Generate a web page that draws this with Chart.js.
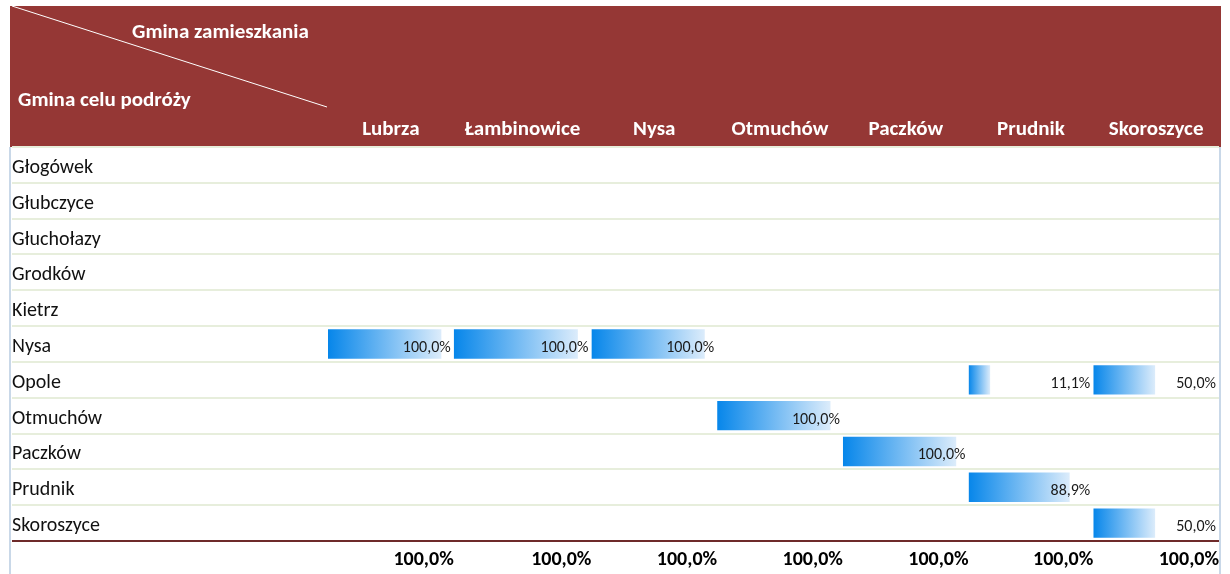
<!DOCTYPE html>
<html lang="pl">
  <head>
    <meta charset="UTF-8" />
    <title>Gmina celu podróży / Gmina zamieszkania</title>
    <script src="https://cdn.jsdelivr.net/npm/chart.js"></script>
    <style>
      body {
        margin: 0;
        padding: 0;
        background: #ffffff;
      }
      #wrap {
        width: 1230px;
        height: 574px;
        position: relative;
      }
    </style>
  </head>
  <body>
    <div id="wrap"><canvas id="tableChart"></canvas></div>

    <script>
      // destination municipalities (rows)
      const destinations = [
        "Głogówek",
        "Głubczyce",
        "Głuchołazy",
        "Grodków",
        "Kietrz",
        "Nysa",
        "Opole",
        "Otmuchów",
        "Paczków",
        "Prudnik",
        "Skoroszyce",
      ];
      // home municipalities (columns)
      const homes = [
        "Lubrza",
        "Łambinowice",
        "Nysa",
        "Otmuchów",
        "Paczków",
        "Prudnik",
        "Skoroszyce",
      ];
      // shares per column, one entry per destination row
      const lubrza = [null, null, null, null, null, 1.0, null, null, null, null, null];
      const lambinowice = [null, null, null, null, null, 1.0, null, null, null, null, null];
      const nysa = [null, null, null, null, null, 1.0, null, null, null, null, null];
      const otmuchow = [null, null, null, null, null, null, null, 1.0, null, null, null];
      const paczkow = [null, null, null, null, null, null, null, null, 1.0, null, null];
      const prudnik = [null, null, null, null, null, null, 0.111, null, null, 0.889, null];
      const skoroszyce = [null, null, null, null, null, null, 0.5, null, null, null, 0.5];
      const totals = [1.0, 1.0, 1.0, 1.0, 1.0, 1.0, 1.0];

      const columnValues = [lubrza, lambinowice, nysa, otmuchow, paczkow, prudnik, skoroszyce];
      const columnWidths = [126, 138, 126, 126, 126, 125, 126];

      const FONT = 'Carlito, "Liberation Sans Narrow", "Open Sans", sans-serif';
      const HEADER_RED = "#953735";
      const BAR_MIN = -0.1; // excel style data bars keep a minimum length
      const BAR_MAX = 1.12;

      function pct(v) {
        return (v * 100).toFixed(1).replace(".", ",") + "%";
      }

      function barGradient(c) {
        const chart = c.chart;
        const sc = chart.scales[c.dataset.xAxisID];
        if (!sc || c.raw == null) return "#1a8be8";
        const x0 = sc.getPixelForValue(BAR_MIN);
        const x1 = sc.getPixelForValue(c.raw);
        if (!isFinite(x0) || !isFinite(x1) || x1 <= x0) return "#1a8be8";
        const g = chart.ctx.createLinearGradient(x0, 0, x1, 0);
        g.addColorStop(0, "#0686ea");
        g.addColorStop(1, "#dcecfb");
        return g;
      }

      const scales = {
        y: {
          type: "category",
          position: "left",
          afterFit: (s) => {
            s.width = 316;
          },
          ticks: {
            crossAlign: "far",
            labelOffset: 3,
            color: "#111111",
            font: { family: FONT, size: 20 },
          },
          grid: {
            offset: true,
            drawTicks: true,
            tickLength: 316,
            lineWidth: 2,
            color: (c) => (c.type === "scale" ? "#6e2a2a" : "#e7eedc"),
          },
          border: { display: false },
        },
      };

      // top axes are laid out in reverse order, so add them last column first
      for (let i = homes.length - 1; i >= 0; i--) {
        scales["x" + i] = {
          type: "linear",
          position: "top",
          stack: "columns",
          stackWeight: columnWidths[i],
          min: BAR_MIN,
          max: BAR_MAX,
          afterFit: (s) => {
            s.height = 30;
          },
          ticks: { display: false },
          grid: { display: false },
          border: { display: false },
          title: {
            display: true,
            text: homes[i],
            color: "#ffffff",
            font: { family: FONT, size: 21, weight: "bold" },
            padding: { top: 0, bottom: 0 },
          },
        };
      }

      totals.forEach((v, i) => {
        scales["t" + i] = {
          type: "linear",
          position: "bottom",
          stack: "totals",
          stackWeight: columnWidths[i],
          afterFit: (s) => {
            s.height = 33;
          },
          ticks: { display: false },
          grid: { display: false },
          border: { display: false },
          title: {
            display: true,
            text: pct(v),
            align: "end",
            color: "#000000",
            font: { family: FONT, size: 20, weight: "bold" },
            padding: { top: 0, bottom: 2 },
          },
        };
      });

      const datasets = homes.map((name, i) => ({
        label: name,
        data: columnValues[i],
        xAxisID: "x" + i,
        yAxisID: "y",
        base: BAR_MIN,
        grouped: false,
        barPercentage: 0.82,
        categoryPercentage: 1,
        backgroundColor: barGradient,
        borderWidth: 0,
      }));

      const tableFrame = {
        id: "tableFrame",
        beforeDraw(chart) {
          const ctx = chart.ctx;
          ctx.save();
          ctx.fillStyle = HEADER_RED;
          ctx.fillRect(10, 6, 1211, 141);

          // diagonal header split
          ctx.strokeStyle = "#ffffff";
          ctx.lineWidth = 1;
          ctx.beginPath();
          ctx.moveTo(12, 6);
          ctx.lineTo(327, 107);
          ctx.stroke();

          ctx.fillStyle = "#ffffff";
          ctx.font = "bold 21px " + FONT;
          ctx.textBaseline = "middle";
          ctx.textAlign = "left";
          ctx.fillText("Gmina zamieszkania", 132, 33);
          ctx.fillText("Gmina celu podróży", 18, 101);
          ctx.restore();
        },
        afterDraw(chart) {
          const ctx = chart.ctx;
          ctx.save();
          ctx.strokeStyle = "#c9d8e8";
          ctx.lineWidth = 2;
          ctx.beginPath();
          ctx.moveTo(10, 147);
          ctx.lineTo(10, 574);
          ctx.moveTo(1220, 147);
          ctx.lineTo(1220, 574);
          ctx.stroke();
          ctx.restore();
        },
        afterDatasetsDraw(chart) {
          const ctx = chart.ctx;
          ctx.save();
          ctx.font = "16px " + FONT;
          ctx.fillStyle = "#1a1a1a";
          ctx.textAlign = "right";
          ctx.textBaseline = "alphabetic";
          chart.data.datasets.forEach((ds, di) => {
            const sc = chart.scales[ds.xAxisID];
            chart.getDatasetMeta(di).data.forEach((bar, j) => {
              const v = ds.data[j];
              if (v == null) return;
              ctx.fillText(pct(v), sc.right - 3, bar.y + 8);
            });
          });
          ctx.restore();
        },
      };

      new Chart(document.getElementById("tableChart"), {
        type: "bar",
        data: { labels: destinations, datasets: datasets },
        options: {
          indexAxis: "y",
          responsive: true,
          maintainAspectRatio: false,
          animation: false,
          layout: {
            padding: { left: 12, right: 11, top: 117, bottom: 0 },
          },
          scales: scales,
          plugins: {
            legend: { display: false },
            tooltip: { enabled: false },
          },
        },
        plugins: [tableFrame],
      });
    </script>
  </body>
</html>
